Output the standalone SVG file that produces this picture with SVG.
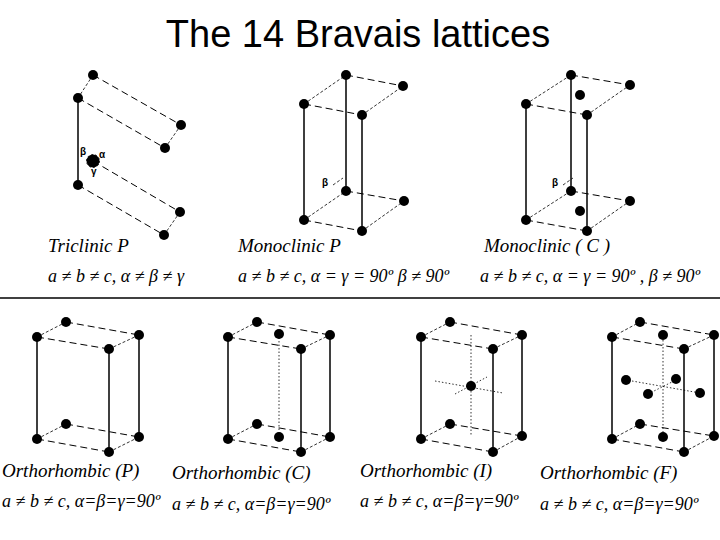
<svg xmlns="http://www.w3.org/2000/svg" width="720" height="540" viewBox="0 0 720 540">
<style>
.s{stroke:#000;stroke-width:1.5;fill:none}
.d{stroke:#000;stroke-width:1;stroke-dasharray:7 4;fill:none}
.t{stroke:#000;stroke-width:0.8;stroke-dasharray:3 2;fill:none}
.o{stroke:#000;stroke-width:0.8;stroke-dasharray:1.5 2;fill:none}
circle{fill:#000}
.lb{font-family:"Liberation Serif",serif;font-style:italic;font-size:19px}
.f{font-family:"Liberation Serif",serif;font-style:italic;font-size:18px}
.g{font-family:"Liberation Sans",sans-serif;font-weight:bold;font-size:10px}
</style>
<text x="358" y="47" text-anchor="middle" font-family="Liberation Sans,sans-serif" font-size="38">The 14 Bravais lattices</text>
<line x1="0" y1="298" x2="720" y2="298" stroke="#000" stroke-width="1.5"/>
<g id="connectors">
<path class="t" d="M93 75L78 98M181 125L165 148M180 212L164 235"/>
<path class="s" d="M78 98V185"/>
<path class="d" d="M93 75L181 125M78 98L165 148M93 161L180 212M78 185L164 235"/>
<circle cx="93" cy="161" r="6.5" fill="none" stroke="#000" stroke-width="0.8" stroke-dasharray="2 2"/>
<path class="s" d="M304 104V220M346 75V191M362 115V231"/>
<path class="d" d="M304 104L362 115M346 75L403 86M304 220L362 231M346 191L404 201"/>
<path class="t" d="M304 104L346 75M362 115L403 86M304 220L346 191M362 231L404 201M333 185L343 178"/>
<path class="s" d="M526 104V220M571 75V191M587 115V231"/>
<path class="d" d="M526 104L587 115M571 75L630 85M526 220L587 231M571 191L630 201"/>
<path class="t" d="M526 104L571 75M587 115L630 85M526 220L571 191M587 231L630 201M563 185L573 178"/>
<path class="s" d="M37 337V439M109 349V452M139 335V437"/>
<path class="d" d="M37 337L109 349M66 322L139 335M37 439L109 452M66 424L139 437"/>
<path class="t" d="M37 337L66 322M109 349L139 335M37 439L66 424M109 452L139 437"/>
<path class="s" d="M228 337V439M301 349V452M330 335V437"/>
<path class="d" d="M228 337L301 349M257 322L330 335M228 439L301 452M257 424L330 437"/>
<path class="t" d="M228 337L257 322M301 349L330 335M228 439L257 424M301 452L330 437"/>
<path class="o" d="M279 334V437"/>
<path class="s" d="M421 337V439M493 349V452M522 335V436"/>
<path class="d" d="M421 337L493 349M450 322L522 335M421 439L493 452M450 424L522 436"/>
<path class="t" d="M421 337L450 322M493 349L522 335M421 439L450 424M493 452L522 436"/>
<path class="o" d="M471 335V436M435 381L503 393M455 394L487 377"/>
<path class="s" d="M612 337V439M684 349V452M714 335V436"/>
<path class="d" d="M612 337L684 349M640 322L714 335M612 439L684 452M640 424L714 436"/>
<path class="t" d="M612 337L640 322M684 349L714 335M612 439L640 424M684 452L714 436"/>
<path class="o" d="M663 340V437M632 381L700 393M648 394L676 380"/>
</g>
<g id="triclinic">
<circle cx="93" cy="75" r="5"/><circle cx="78" cy="98" r="5"/><circle cx="181" cy="125" r="5"/><circle cx="165" cy="148" r="5"/>
<circle cx="93" cy="161" r="4.5"/><circle cx="78" cy="185" r="5"/><circle cx="180" cy="212" r="5"/><circle cx="164" cy="235" r="5"/>
<text class="g" x="80" y="155">β</text><text class="g" x="99" y="158" font-weight="normal">α</text><text class="g" x="91" y="175">γ</text>
<text class="lb" x="48" y="252">Triclinic P</text>
<text class="f" x="48" y="282">a ≠ b ≠ c,  α ≠ β ≠ γ</text>
</g>
<g id="monoclinicP">
<circle cx="346" cy="75" r="5"/><circle cx="403" cy="86" r="5"/><circle cx="304" cy="104" r="5"/><circle cx="362" cy="115" r="5"/>
<circle cx="346" cy="191" r="5"/><circle cx="404" cy="201" r="5"/><circle cx="304" cy="220" r="5"/><circle cx="362" cy="231" r="5"/>
<text class="g" x="322" y="186">β</text>
<text class="lb" x="238" y="252">Monoclinic P</text>
<text class="f" x="238" y="282">a ≠ b ≠ c,  α = γ = 90º β ≠ 90º</text>
</g>
<g id="monoclinicC">
<circle cx="571" cy="75" r="5"/><circle cx="630" cy="85" r="5"/><circle cx="526" cy="104" r="5"/><circle cx="587" cy="115" r="5"/>
<circle cx="571" cy="191" r="5"/><circle cx="630" cy="201" r="5"/><circle cx="526" cy="220" r="5"/><circle cx="587" cy="231" r="5"/>
<circle cx="580" cy="95" r="5"/><circle cx="580" cy="211" r="5"/>
<text class="g" x="552" y="186">β</text>
<text class="lb" x="484" y="252">Monoclinic  ( C )</text>
<text class="f" x="480" y="282">a ≠ b ≠ c,  α = γ = 90º , β ≠ 90º</text>
</g>
<g id="orthoP">
<circle cx="66" cy="322" r="5"/><circle cx="139" cy="335" r="5"/><circle cx="37" cy="337" r="5"/><circle cx="109" cy="349" r="5"/>
<circle cx="66" cy="424" r="5"/><circle cx="139" cy="437" r="5"/><circle cx="37" cy="439" r="5"/><circle cx="109" cy="452" r="5"/>
<text class="lb" x="2" y="477">Orthorhombic (P)</text>
<text class="f" x="2" y="507">a ≠ b ≠ c, α=β=γ=90º</text>
</g>
<g id="orthoC">
<circle cx="257" cy="322" r="5"/><circle cx="330" cy="335" r="5"/><circle cx="228" cy="337" r="5"/><circle cx="301" cy="349" r="5"/>
<circle cx="257" cy="424" r="5"/><circle cx="330" cy="437" r="5"/><circle cx="228" cy="439" r="5"/><circle cx="301" cy="452" r="5"/>
<circle cx="279" cy="334" r="5"/><circle cx="279" cy="437" r="5"/>
<text class="lb" x="172" y="479" font-size="22">Orthorhombic (C)</text>
<text class="f" x="172" y="510" font-size="22">a ≠ b ≠ c, α=β=γ=90º</text>
</g>
<g id="orthoI">
<circle cx="450" cy="322" r="5"/><circle cx="522" cy="335" r="5"/><circle cx="421" cy="337" r="5"/><circle cx="493" cy="349" r="5"/>
<circle cx="450" cy="424" r="5"/><circle cx="522" cy="436" r="5"/><circle cx="421" cy="439" r="5"/><circle cx="493" cy="452" r="5"/>
<circle cx="471" cy="386" r="5"/>
<text class="lb" x="360" y="477">Orthorhombic (I)</text>
<text class="f" x="360" y="507">a ≠ b ≠ c, α=β=γ=90º</text>
</g>
<g id="orthoF">
<circle cx="640" cy="322" r="5"/><circle cx="714" cy="335" r="5"/><circle cx="612" cy="337" r="5"/><circle cx="684" cy="349" r="5"/>
<circle cx="640" cy="424" r="5"/><circle cx="714" cy="436" r="5"/><circle cx="612" cy="439" r="5"/><circle cx="684" cy="452" r="5"/>
<circle cx="663" cy="335" r="5"/><circle cx="663" cy="437" r="5"/><circle cx="626" cy="380" r="5"/><circle cx="676" cy="379" r="5"/>
<circle cx="648" cy="394" r="5"/><circle cx="700" cy="393" r="5"/>
<text class="lb" x="540" y="479" font-size="22">Orthorhombic (F)</text>
<text class="f" x="540" y="510" font-size="22">a ≠ b ≠ c, α=β=γ=90º</text>
</g>
</svg>
